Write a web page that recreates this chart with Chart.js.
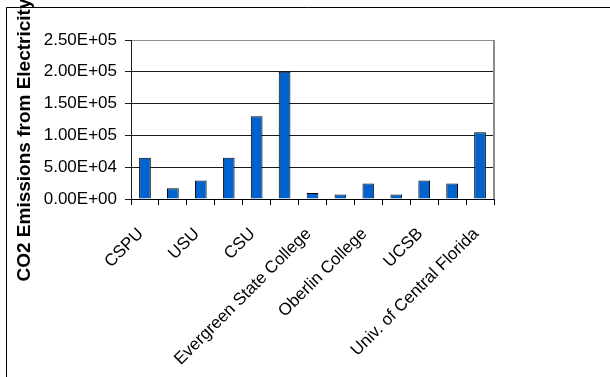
<!DOCTYPE html>
<html>
<head>
<meta charset="utf-8">
<script src="https://cdn.jsdelivr.net/npm/chart.js@4"></script>
<style>
  html, body { margin: 0; padding: 0; background: #fff; }
  #wrap { width: 610px; height: 377px; position: relative; }
</style>
</head>
<body>
<div id="wrap"><canvas id="co2Chart" width="610" height="377"></canvas></div>
<script>
// categories: only every other name is printed on the original axis
const schools = ["CSPU", "", "USU", "", "CSU", "", "Evergreen State College", "",
                 "Oberlin College", "", "UCSB", "", "Univ. of Central Florida"];
const emissions = [65000, 17000, 29000, 65000, 130000, 200000, 9500, 7000,
                   24500, 7000, 29000, 24500, 105000];
const yTicks = [0, 50000, 100000, 150000, 200000, 250000];
const yTitle = "CO2 Emissions from Electricity";

const FONT = "'Liberation Sans', Arial, sans-serif";

// Excel style: 2.50E+05
function sci(v) {
    if (v === 0) return "0.00E+00";
    let e = Math.floor(Math.log10(Math.abs(v)));
    let m = v / Math.pow(10, e);
    let sign = e < 0 ? "-" : "+";
    return m.toFixed(2) + "E" + sign + String(Math.abs(e)).padStart(2, "0");
}

const framePlugin = {
    id: "frame",
    beforeDraw(chart) {
        const c = chart.ctx;
        c.save();
        c.fillStyle = "#fff";
        c.fillRect(0, 0, chart.width, chart.height);
        c.strokeStyle = "#000";
        c.lineWidth = 1;
        c.beginPath();
        c.moveTo(6.5, chart.height);
        c.lineTo(6.5, 7.5);
        c.lineTo(chart.width, 7.5);
        c.stroke();
        c.restore();
    },
    afterDatasetsDraw(chart) {
        const c = chart.ctx;
        const a = chart.chartArea;
        c.save();
        c.strokeStyle = "#8c8c8c";
        c.lineWidth = 2;
        c.beginPath();
        c.moveTo(a.right, a.top);
        c.lineTo(a.right, a.bottom);
        c.stroke();
        // rotated axis title
        c.fillStyle = "#000";
        c.font = "bold 19px " + FONT;
        c.textAlign = "center";
        c.textBaseline = "middle";
        c.translate(25, 140);
        c.rotate(-Math.PI / 2);
        c.fillText(yTitle, 0, 0);
        c.restore();
    }
};

document.addEventListener("DOMContentLoaded", function () {
    let ctx = document.getElementById("co2Chart").getContext("2d");

    new Chart(ctx, {
        type: "bar",
        data: {
            labels: schools,
            datasets: [{
                data: emissions,
                backgroundColor: "#0062CC",
                borderColor: "#000",
                borderWidth: 1,
                categoryPercentage: 1,
                barPercentage: 0.42
            }]
        },
        options: {
            responsive: false,
            animation: false,
            devicePixelRatio: 1,
            layout: { padding: { top: 40, right: 116, left: 0, bottom: 0 } },
            plugins: {
                legend: { display: false },
                tooltip: { enabled: false }
            },
            scales: {
                x: {
                    afterFit: function (s) { s.height = 178; },
                    grid: {
                        offset: true,
                        drawOnChartArea: false,
                        tickLength: 6,
                        color: "#000"
                    },
                    border: { color: "#000", width: 1 },
                    ticks: {
                        autoSkip: false,
                        maxRotation: 45,
                        minRotation: 45,
                        padding: 19,
                        labelOffset: -4,
                        color: "#000",
                        font: { family: FONT, size: 17 }
                    }
                },
                y: {
                    min: 0,
                    max: 250000,
                    afterFit: function (s) { s.width = 131; },
                    afterBuildTicks: function (s) {
                        s.ticks = yTicks.map(v => ({ value: v }));
                    },
                    grid: {
                        color: c => c.tick && c.tick.value === 250000 ? "#8c8c8c" : "#1a1a1a",
                        tickColor: "#1a1a1a",
                        tickLength: 6,
                        lineWidth: 1
                    },
                    border: { color: "#1a1a1a", width: 1 },
                    ticks: {
                        padding: 8,
                        color: "#000",
                        font: { family: FONT, size: 17 },
                        callback: v => sci(v)
                    }
                }
            }
        },
        plugins: [framePlugin]
    });
});
</script>
</body>
</html>
